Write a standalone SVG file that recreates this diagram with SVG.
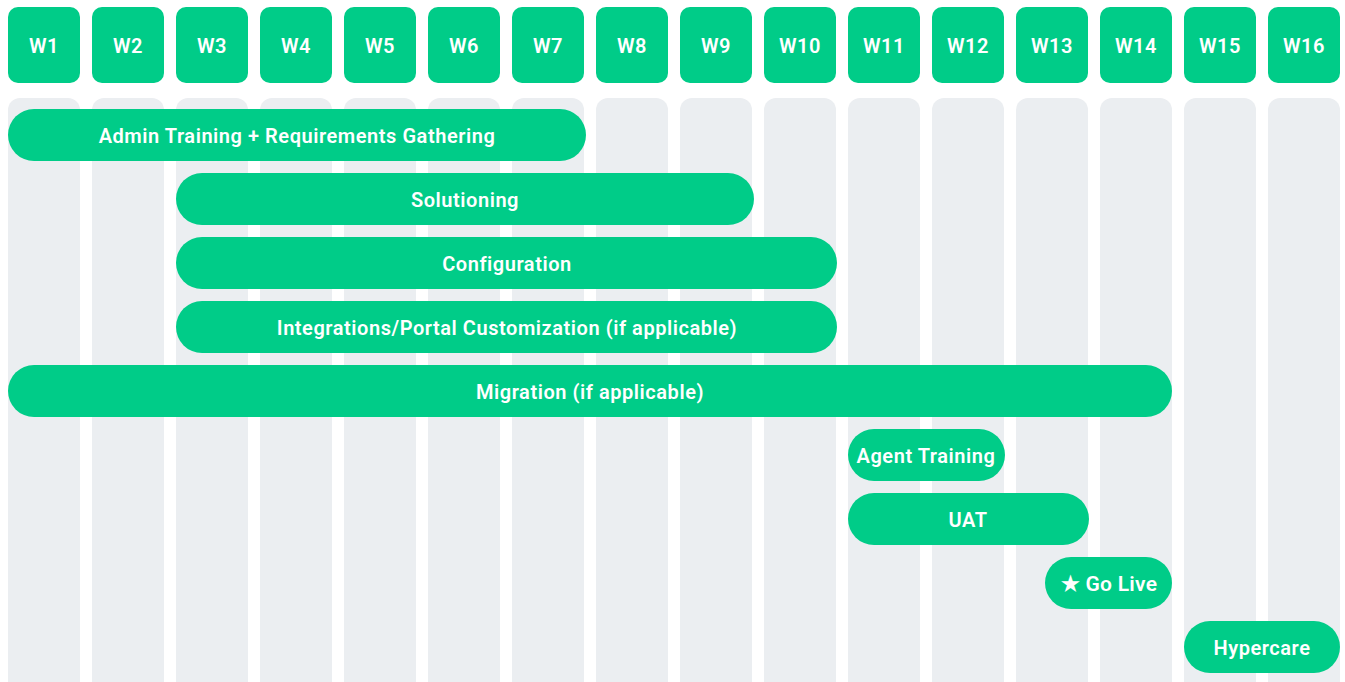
<svg xmlns="http://www.w3.org/2000/svg" width="1345" height="682" viewBox="0 0 1345 682">
<style>
.hd{fill:#00CC88}
.col{fill:#EBEEF1}
.bar{fill:#00CC88}
.t{font-family:Roboto,"Liberation Sans",sans-serif;font-weight:600;font-size:20px;letter-spacing:0.55px;fill:#FFFFFF;text-anchor:middle;dominant-baseline:central}
</style>
<rect width="1345" height="682" fill="#FFFFFF"/>
<g id="columns">
<rect class="col" x="8" y="98" width="72" height="600" rx="12"/>
<rect class="col" x="92" y="98" width="72" height="600" rx="12"/>
<rect class="col" x="176" y="98" width="72" height="600" rx="12"/>
<rect class="col" x="260" y="98" width="72" height="600" rx="12"/>
<rect class="col" x="344" y="98" width="72" height="600" rx="12"/>
<rect class="col" x="428" y="98" width="72" height="600" rx="12"/>
<rect class="col" x="512" y="98" width="72" height="600" rx="12"/>
<rect class="col" x="596" y="98" width="72" height="600" rx="12"/>
<rect class="col" x="680" y="98" width="72" height="600" rx="12"/>
<rect class="col" x="764" y="98" width="72" height="600" rx="12"/>
<rect class="col" x="848" y="98" width="72" height="600" rx="12"/>
<rect class="col" x="932" y="98" width="72" height="600" rx="12"/>
<rect class="col" x="1016" y="98" width="72" height="600" rx="12"/>
<rect class="col" x="1100" y="98" width="72" height="600" rx="12"/>
<rect class="col" x="1184" y="98" width="72" height="600" rx="12"/>
<rect class="col" x="1268" y="98" width="72" height="600" rx="12"/>
</g>
<g id="headers">
<g id="h1"><rect class="hd" x="8" y="7" width="72" height="76" rx="10"/><text class="t" x="44" y="46">W1</text></g>
<g id="h2"><rect class="hd" x="92" y="7" width="72" height="76" rx="10"/><text class="t" x="128" y="46">W2</text></g>
<g id="h3"><rect class="hd" x="176" y="7" width="72" height="76" rx="10"/><text class="t" x="212" y="46">W3</text></g>
<g id="h4"><rect class="hd" x="260" y="7" width="72" height="76" rx="10"/><text class="t" x="296" y="46">W4</text></g>
<g id="h5"><rect class="hd" x="344" y="7" width="72" height="76" rx="10"/><text class="t" x="380" y="46">W5</text></g>
<g id="h6"><rect class="hd" x="428" y="7" width="72" height="76" rx="10"/><text class="t" x="464" y="46">W6</text></g>
<g id="h7"><rect class="hd" x="512" y="7" width="72" height="76" rx="10"/><text class="t" x="548" y="46">W7</text></g>
<g id="h8"><rect class="hd" x="596" y="7" width="72" height="76" rx="10"/><text class="t" x="632" y="46">W8</text></g>
<g id="h9"><rect class="hd" x="680" y="7" width="72" height="76" rx="10"/><text class="t" x="716" y="46">W9</text></g>
<g id="h10"><rect class="hd" x="764" y="7" width="72" height="76" rx="10"/><text class="t" x="800" y="46">W10</text></g>
<g id="h11"><rect class="hd" x="848" y="7" width="72" height="76" rx="10"/><text class="t" x="884" y="46">W11</text></g>
<g id="h12"><rect class="hd" x="932" y="7" width="72" height="76" rx="10"/><text class="t" x="968" y="46">W12</text></g>
<g id="h13"><rect class="hd" x="1016" y="7" width="72" height="76" rx="10"/><text class="t" x="1052" y="46">W13</text></g>
<g id="h14"><rect class="hd" x="1100" y="7" width="72" height="76" rx="10"/><text class="t" x="1136" y="46">W14</text></g>
<g id="h15"><rect class="hd" x="1184" y="7" width="72" height="76" rx="10"/><text class="t" x="1220" y="46">W15</text></g>
<g id="h16"><rect class="hd" x="1268" y="7" width="72" height="76" rx="10"/><text class="t" x="1304" y="46">W16</text></g>
</g>
<g id="bars">
<g id="b1"><rect class="bar" x="8" y="109" width="578" height="52" rx="26"/><text class="t" x="297" y="136">Admin Training + Requirements Gathering</text></g>
<g id="b2"><rect class="bar" x="176" y="173" width="578" height="52" rx="26"/><text class="t" x="465" y="200">Solutioning</text></g>
<g id="b3"><rect class="bar" x="176" y="237" width="661" height="52" rx="26"/><text class="t" x="507" y="264">Configuration</text></g>
<g id="b4"><rect class="bar" x="176" y="301" width="661" height="52" rx="26"/><text class="t" x="507" y="328">Integrations/Portal Customization (if applicable)</text></g>
<g id="b5"><rect class="bar" x="8" y="365" width="1164" height="52" rx="26"/><text class="t" x="590" y="392">Migration (if applicable)</text></g>
<g id="b6"><rect class="bar" x="848" y="429" width="157" height="52" rx="26"/><text class="t" x="926" y="456">Agent Training</text></g>
<g id="b7"><rect class="bar" x="848" y="493" width="241" height="52" rx="26"/><text class="t" x="968" y="520">UAT</text></g>
<g id="b8"><rect class="bar" x="1045" y="557" width="127" height="52" rx="26"/><text class="t" x="1109" y="584" style="font-size:21px;letter-spacing:0.3px">★ Go Live</text></g>
<g id="b9"><rect class="bar" x="1184" y="621" width="156" height="52" rx="26"/><text class="t" x="1262" y="648">Hypercare</text></g>
</g>
</svg>
